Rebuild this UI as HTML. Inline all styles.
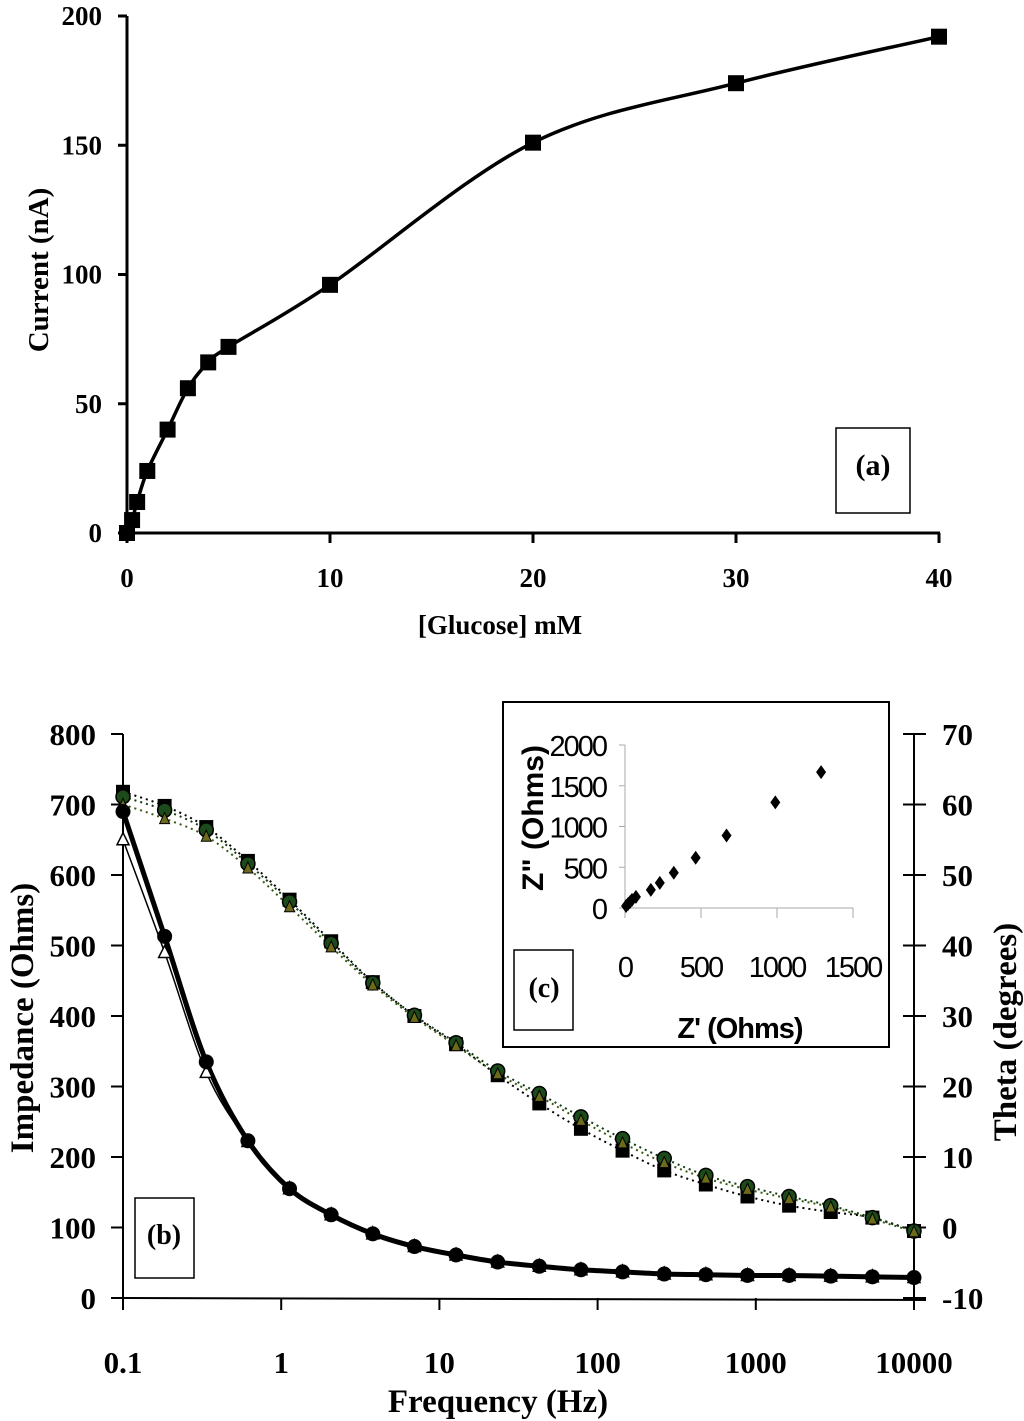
<!DOCTYPE html>
<html><head><meta charset="utf-8"><style>
html,body{margin:0;padding:0;background:#fff;}
svg{display:block;}
.s{font-family:"Liberation Serif",serif;font-weight:bold;fill:#000;}
.a{font-family:"Liberation Sans",sans-serif;fill:#000;}
</style></head><body>
<svg id="svg" width="1024" height="1421" viewBox="0 0 1024 1421" xmlns="http://www.w3.org/2000/svg">
<g id="pa"></g>
<g id="pb"></g>
<g id="pc"></g>
</svg>
<script>
// Panel a data
const glucose = [0, 0.25, 0.5, 1, 2, 3, 4, 5, 10, 20, 30, 40];
const current = [0, 5, 12, 24, 40, 56, 66, 72, 96, 151, 174, 192];
const aXTicks = [0, 10, 20, 30, 40];
const aYTicks = [0, 50, 100, 150, 200];
// Panel b data
const freq = [0.1,0.1833,0.336,0.616,1.129,2.069,3.793,6.952,12.74,23.36,42.81,78.48,143.8,263.7,483.3,885.9,1624,2976,5456,10000];
const impedance = [690,513,335,223,155,118,91,73,61,51,45,40,37,34,33,32,32,31,30,29];
const impedanceAlt = [650,490,320,222,155,118,91,73,61,51,45,40,37,34,33,32,32,31,30,29];
const thetaCircle = [61.1,59.2,56.4,51.6,46.2,40.3,34.7,30.1,26.2,22.2,19.0,15.7,12.6,9.8,7.4,5.8,4.4,3.1,1.4,-0.5];
const thetaSquare = [61.8,59.8,56.8,52.0,46.5,40.6,34.8,30.0,26.0,21.6,17.6,14.0,10.9,8.1,6.1,4.4,3.1,2.2,1.4,-0.5];
const thetaTri = [60.0,58.0,55.5,51.0,45.5,39.8,34.4,29.8,25.8,21.8,18.6,15.2,12.0,9.2,7.0,5.4,4.1,2.9,1.2,-0.6];
const bXTicks = [0.1, 1, 10, 100, 1000, 10000];
const bXLabels = ["0.1","1","10","100","1000","10000"];
const bYTicks = [0,100,200,300,400,500,600,700,800];
const bY2Ticks = [-10,0,10,20,30,40,50,60,70];
// Panel c data
const zReal = [7,20,33,46,72,170,229,321,465,668,989,1290];
const zImag = [25,49,74,99,136,222,309,432,617,889,1296,1667];
const cXTicks = [0,500,1000,1500];
const cYTicks = [0,500,1000,1500,2000];

const NS="http://www.w3.org/2000/svg";
function mk(parent, tag, attrs, text){
  const e=document.createElementNS(NS,tag);
  for(const k in attrs) e.setAttribute(k,attrs[k]);
  if(text!==undefined) e.textContent=text;
  parent.appendChild(e); return e;
}
function smooth(pts){
  let d="M"+pts[0][0]+","+pts[0][1];
  for(let i=0;i<pts.length-1;i++){
    const p0=pts[Math.max(i-1,0)],p1=pts[i],p2=pts[i+1],p3=pts[Math.min(i+2,pts.length-1)];
    const c1=[p1[0]+(p2[0]-p0[0])/6,p1[1]+(p2[1]-p0[1])/6];
    const c2=[p2[0]-(p3[0]-p1[0])/6,p2[1]-(p3[1]-p1[1])/6];
    d+=" C"+c1[0]+","+c1[1]+" "+c2[0]+","+c2[1]+" "+p2[0]+","+p2[1];
  }
  return d;
}
// ---------- Panel a ----------
const pa=document.getElementById('pa');
const ax=v=>127+v*(939-127)/40;
function ayf(v){return 533-v*(533-16)/200;}
let e;
e=mk(pa,'line',{x1:127,y1:ayf(0),x2:127,y2:ayf(200),stroke:'#000','stroke-width':3});


e=mk(pa,'line',{x1:127,y1:ayf(0),x2:940,y2:ayf(0),stroke:'#000','stroke-width':3});


aYTicks.forEach(t=>{
  mk(pa,'line',{x1:118,y1:ayf(t),x2:127,y2:ayf(t),stroke:'#000','stroke-width':3});
  e=mk(pa,'text',{x:102,y:ayf(t)+9,'text-anchor':'end','font-size':27,class:'s'},String(t));
  
  
});
aXTicks.forEach(t=>{
  mk(pa,'line',{x1:ax(t),y1:ayf(0),x2:ax(t),y2:ayf(0)+10,stroke:'#000','stroke-width':3});
  e=mk(pa,'text',{x:ax(t),y:587,'text-anchor':'middle','font-size':27,class:'s'},String(t));
  
  
});
const aPts=glucose.map((g,i)=>[ax(g),ayf(current[i])]);
e=mk(pa,'path',{d:smooth(aPts),fill:'none',stroke:'#000','stroke-width':3.5});


aPts.forEach(p=>{
  e=mk(pa,'rect',{x:p[0]-8,y:p[1]-8,width:16,height:16,fill:'#000'});
  
  
});
e=mk(pa,'text',{x:500,y:634,'text-anchor':'middle','font-size':27,class:'s'},'[Glucose] mM');


e=mk(pa,'text',{x:0,y:0,'text-anchor':'middle','font-size':29,class:'s',transform:'translate(48,270) rotate(-90)'},'Current (nA)');


e=mk(pa,'rect',{x:836,y:428,width:74,height:85,fill:'none',stroke:'#000','stroke-width':1.5});


e=mk(pa,'text',{x:873,y:475,'text-anchor':'middle','font-size':30,class:'s'},'(a)');



// ---------- Panel b ----------
const pb=document.getElementById('pb');
const bx=f=>123+(Math.log10(f)+1)*(914-123)/5;
const by=v=>1298-v*(1298-734)/800;
const by2=v=>1298-(v+10)*(1298-734)/80;
e=mk(pb,'line',{x1:123,y1:734,x2:123,y2:1298,stroke:'#000','stroke-width':2});


e=mk(pb,'line',{x1:914,y1:734,x2:914,y2:1310,stroke:'#000','stroke-width':2});


e=mk(pb,'line',{x1:123,y1:1298,x2:926,y2:1300,stroke:'#000','stroke-width':2});


bYTicks.forEach(t=>{
  mk(pb,'line',{x1:111,y1:by(t),x2:123,y2:by(t),stroke:'#000','stroke-width':2});
  e=mk(pb,'text',{x:96,y:by(t)+11,'text-anchor':'end','font-size':31,class:'s'},String(t));
  
  
});
bY2Ticks.forEach(t=>{
  mk(pb,'line',{x1:903,y1:by2(t),x2:926,y2:by2(t),stroke:'#000','stroke-width':2});
  e=mk(pb,'text',{x:942,y:by2(t)+11,'text-anchor':'start','font-size':31,class:'s'},String(t));
  
  
});
bXTicks.forEach((t,i)=>{
  mk(pb,'line',{x1:bx(t),y1:1298,x2:bx(t),y2:1310,stroke:'#000','stroke-width':2});
  e=mk(pb,'text',{x:bx(t),y:1373,'text-anchor':'middle','font-size':31,class:'s'},bXLabels[i]);
  
  
});
[[thetaSquare,'#000'],[thetaTri,'#3a5a10'],[thetaCircle,'#123d12']].forEach(([arr,c])=>{
  const pts=freq.map((f,i)=>[bx(f),by2(arr[i])]);
  e=mk(pb,'path',{d:smooth(pts),fill:'none',stroke:c,'stroke-width':2,'stroke-dasharray':'2,4'});
  
  
});
freq.forEach((f,i)=>{
  e=mk(pb,'rect',{x:bx(f)-7,y:by2(thetaSquare[i])-7,width:14,height:14,fill:'#000'});
  
  
  e=mk(pb,'circle',{cx:bx(f),cy:by2(thetaCircle[i]),r:7,fill:'#1d4a1a',stroke:'#000','stroke-width':1.5});
  
  
  const x=bx(f),y=by2(thetaTri[i]);
  e=mk(pb,'path',{d:`M${x},${y-6} L${x+5},${y+5} L${x-5},${y+5} Z`,fill:'#6b6b1a',stroke:'#000','stroke-width':1});
  
  
});
const altPts=freq.map((f,i)=>[bx(f),by(impedanceAlt[i])]);
e=mk(pb,'path',{d:smooth(altPts),fill:'none',stroke:'#000','stroke-width':1.5});


const impPts=freq.map((f,i)=>[bx(f),by(impedance[i])]);
e=mk(pb,'path',{d:smooth(impPts),fill:'none',stroke:'#000','stroke-width':5});


altPts.forEach(p=>{
  e=mk(pb,'path',{d:`M${p[0]},${p[1]-7} L${p[0]+6},${p[1]+5} L${p[0]-6},${p[1]+5} Z`,fill:'#fff',stroke:'#000','stroke-width':1.5});
  
  
});
impPts.forEach(p=>{
  e=mk(pb,'circle',{cx:p[0],cy:p[1],r:7.5,fill:'#000'});
  
  
});
e=mk(pb,'text',{x:498,y:1412,'text-anchor':'middle','font-size':33,class:'s'},'Frequency (Hz)');


e=mk(pb,'text',{x:0,y:0,'text-anchor':'middle','font-size':33,class:'s',transform:'translate(33,1018) rotate(-90)'},'Impedance (Ohms)');


e=mk(pb,'text',{x:0,y:0,'text-anchor':'middle','font-size':33,class:'s',transform:'translate(1016,1032) rotate(-90)'},'Theta (degrees)');


e=mk(pb,'rect',{x:135,y:1198,width:59,height:80,fill:'#fff',stroke:'#000','stroke-width':1.5});


e=mk(pb,'text',{x:164,y:1244,'text-anchor':'middle','font-size':28,class:'s'},'(b)');



// ---------- Panel c ----------
const pc=document.getElementById('pc');
const cx=v=>625+v*(853-625)/1500;
const cy=v=>908-v*(908-745)/2000;
e=mk(pc,'rect',{x:503,y:702,width:386,height:345,fill:'#fff',stroke:'#000','stroke-width':2});


mk(pc,'line',{x1:625,y1:cy(0),x2:625,y2:cy(2000),stroke:'#aaa','stroke-width':1});
mk(pc,'line',{x1:625,y1:cy(0),x2:cx(1500),y2:cy(0),stroke:'#aaa','stroke-width':1});
cYTicks.forEach(t=>{
  mk(pc,'line',{x1:619,y1:cy(t),x2:625,y2:cy(t),stroke:'#aaa','stroke-width':1});
  e=mk(pc,'text',{x:606,y:cy(t)+11,'text-anchor':'end','font-size':29,class:'a',style:'letter-spacing:-2px'},String(t));
  
  
});
cXTicks.forEach(t=>{
  mk(pc,'line',{x1:cx(t),y1:cy(0),x2:cx(t),y2:cy(0)+10,stroke:'#aaa','stroke-width':1});
  e=mk(pc,'text',{x:cx(t),y:977,'text-anchor':'middle','font-size':29,class:'a',style:'letter-spacing:-2px'},String(t));
  
  
});
zReal.forEach((r,i)=>{
  const x=cx(r),y=cy(zImag[i]);
  e=mk(pc,'path',{d:`M${x},${y-7} L${x+5},${y} L${x},${y+7} L${x-5},${y} Z`,fill:'#000'});
  
  
});
e=mk(pc,'text',{x:740,y:1038,'text-anchor':'middle','font-size':29,class:'a','font-weight':'bold',style:'letter-spacing:-1px'},"Z' (Ohms)");


e=mk(pc,'text',{x:0,y:0,'text-anchor':'middle','font-size':30,class:'a','font-weight':'bold',transform:'translate(543,818) rotate(-90)'},'Z" (Ohms)');


e=mk(pc,'rect',{x:514,y:950,width:59,height:80,fill:'none',stroke:'#000','stroke-width':1.5});


e=mk(pc,'text',{x:544,y:997,'text-anchor':'middle','font-size':28,class:'s'},'(c)');


</script>
</body></html>
